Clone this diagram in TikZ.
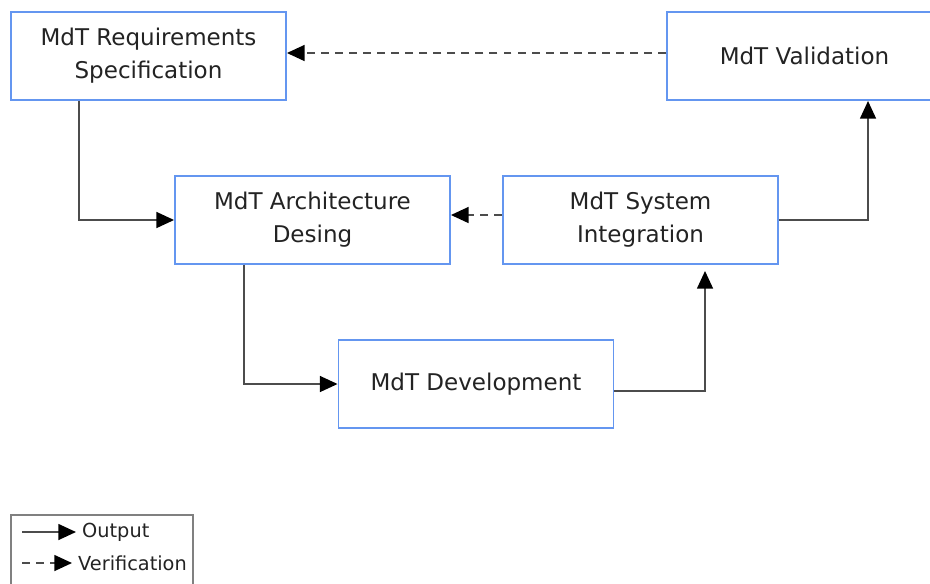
\documentclass[tikz,border=0pt]{standalone}
\usepackage{fontspec}
\setmainfont{DejaVu Sans}
\usepackage{tikz}
\usetikzlibrary{arrows.meta}
\definecolor{boxblue}{RGB}{100,150,240}
\definecolor{txtgray}{RGB}{35,35,35}

\begin{document}
\begin{tikzpicture}[x=0.02cm,y=-0.02cm]
            \tikzstyle{every node}=[font=\fontsize{13.1}{18.7}\selectfont,text=txtgray]
            \tikzstyle{stage}=[draw=boxblue,line width=1.1pt,fill=white,minimum width=5.5cm,minimum height=1.76cm,align=center,inner sep=0pt]
            \tikzstyle{output}=[draw=black!70,line width=1pt,-{Triangle[length=10pt,width=9pt,color=black]}]
            \tikzstyle{verif}=[output,dash pattern=on 4.5pt off 3.5pt]
            \useasboundingbox (0,0) rectangle (930,583);
            \node [stage] (req) at (148.5,56) {MdT Requirements\\Specification};
            \node [stage] (val) at (804.5,56) {MdT Validation};
            \node [stage] (arch) at (312.5,220) {MdT Architecture\\Desing};
            \node [stage] (integ) at (640.5,220) {MdT System\\Integration};
            \node [stage] (dev) at (476,384) {MdT Development};
            \draw [output] ([xshift=1.38cm]req.south west) |- (arch.west);
            \draw [output] ([xshift=1.4cm]arch.south west) |- (dev.west);
            \draw [output] ([yshift=-0.14cm]dev.east) -| ([xshift=4.06cm,yshift=-0.12cm]integ.south west);
            \draw [output] (integ.east) -| ([xshift=4.04cm]val.south west);
            \draw [verif] ([yshift=0.06cm]val.west) -- ([yshift=0.06cm]req.east);
            \draw [verif] ([yshift=0.1cm]integ.west) -- ([yshift=0.1cm]arch.east);
            % legend
            \draw [black!50,line width=0.9pt] (11,515) rectangle (193,600);
            \coordinate (o1) at (22,532);
            \coordinate (v1) at (22,563);
            \node [anchor=west,font=\fontsize{11}{12}\selectfont] (outtxt) at (76,532) {Output};
            \node [anchor=west,font=\fontsize{11}{12}\selectfont] (veritxt) at (72,563) {Verification};
            \draw [output] (o1) -- (outtxt.west);
            \draw [verif] (v1) -- (veritxt.west);
        \end{tikzpicture}
\end{document}
